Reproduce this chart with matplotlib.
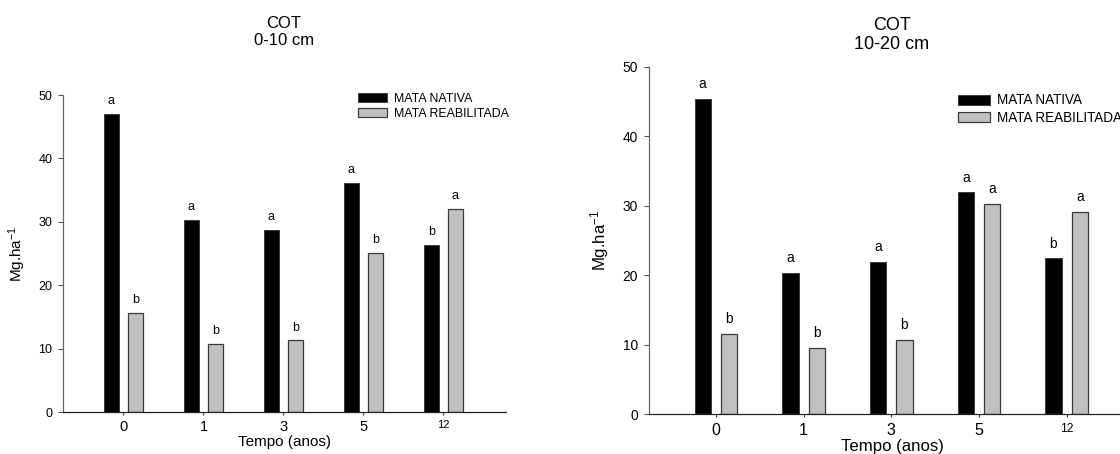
import numpy as np
import matplotlib
matplotlib.use("Agg")
import matplotlib.pyplot as plt

plt.rcParams['font.family'] = ['Liberation Sans', 'DejaVu Sans']
plt.rcParams['mathtext.fontset'] = 'custom'
plt.rcParams['mathtext.rm'] = 'Liberation Sans'
plt.rcParams['mathtext.default'] = 'regular'

# dados
anos = ['0', '1', '3', '5', '12']
series = ['MATA NATIVA', 'MATA REABILITADA']

nativa_0_10 = [47.0, 30.3, 28.7, 36.2, 26.4]
reab_0_10 = [15.6, 10.8, 11.3, 25.1, 32.1]
letras_nativa_0_10 = ['a', 'a', 'a', 'a', 'b']
letras_reab_0_10 = ['b', 'b', 'b', 'b', 'a']

nativa_10_20 = [45.4, 20.3, 21.9, 31.9, 22.4]
reab_10_20 = [11.5, 9.5, 10.7, 30.3, 29.1]
letras_nativa_10_20 = ['a', 'a', 'a', 'a', 'b']
letras_reab_10_20 = ['b', 'b', 'b', 'a', 'a']


def draw_panel(ax, nativa, reab, let_n, let_r, s, leg_anchor):
    x = np.arange(len(anos))
    w = 0.185
    b1 = ax.bar(x - 0.15, nativa, w, color='black', edgecolor='#3a3a3a', linewidth=0.7, label=series[0])
    b2 = ax.bar(x + 0.15, reab, w, color='#c0c0c0', edgecolor='#3a3a3a', linewidth=0.9, label=series[1])
    for bars, lets in ((b1, let_n), (b2, let_r)):
        for rect, l in zip(bars, lets):
            ax.annotate(l, (rect.get_x() + rect.get_width() / 2, rect.get_height()),
                        xytext=(0, 7.0 * s), textcoords='offset points',
                        ha='center', va='baseline', fontsize=9 * s)

    ax.set_xlim(-0.76, 4.78)
    ax.set_ylim(0, 50)
    ax.set_yticks(range(0, 51, 10))
    ax.set_xticks(x)
    ax.set_xticklabels(anos)
    for t in ax.get_xticklabels():
        t.set_fontsize(10.5 * s if t.get_text() != '12' else 8 * s)
    ax.tick_params(axis='y', labelsize=9 * s, length=3.5 * s, width=0.8, color='#555555', pad=4 * s)
    ax.tick_params(axis='x', length=2.2 * s, width=0.8, color='#333333', pad=3.5 * s)

    ax.spines['top'].set_visible(False)
    ax.spines['right'].set_visible(False)
    ax.spines['left'].set_color('#666666')
    ax.spines['bottom'].set_color('#222222')
    ax.spines['left'].set_linewidth(0.9)
    ax.spines['bottom'].set_linewidth(0.9)

    ax.set_ylabel('Mg.ha$^{-1}$', fontsize=11 * s)
    ax.yaxis.set_label_coords(-0.078, 0.5)
    ax.set_xlabel('Tempo (anos)', fontsize=11 * s, va='top')
    ax.xaxis.set_label_coords(0.5, -0.072)

    ax.legend(loc='upper left', bbox_to_anchor=leg_anchor, frameon=False,
              fontsize=8.9 * s, handlelength=2.35, handleheight=0.8,
              handletextpad=0.55, labelspacing=0.25, borderpad=0, borderaxespad=0)


fig = plt.figure(figsize=(11.2, 4.54), dpi=100)
ax1 = fig.add_axes([0.056, 0.0925, 0.3955, 0.698])
ax2 = fig.add_axes([0.5797, 0.0881, 0.4337, 0.765])

draw_panel(ax1, nativa_0_10, reab_0_10, letras_nativa_0_10, letras_reab_0_10, 1.0, (0.6666, 1.008))
draw_panel(ax2, nativa_10_20, reab_10_20, letras_nativa_10_20, letras_reab_10_20, 1.096, (0.636, 0.923))

fig.text(0.2536, 1 - 31.7 / 454, 'COT\n0-10 cm', ha='center', va='center', fontsize=12, linespacing=1.15)
fig.text(0.7964, 1 - 35 / 454, 'COT\n10-20 cm', ha='center', va='center', fontsize=13, linespacing=1.15)

fig.savefig('out.png', dpi=100)
